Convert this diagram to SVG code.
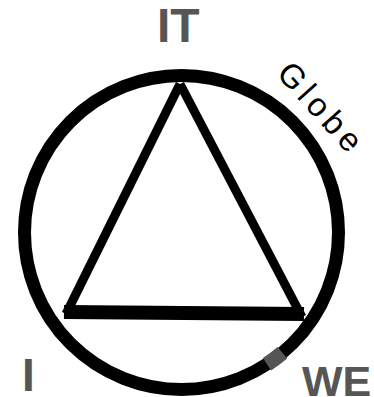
<svg xmlns="http://www.w3.org/2000/svg" width="374" height="397" viewBox="0 0 374 397">
  <style>
    .lbl { font-family: "Liberation Sans", Arial, sans-serif; font-weight: bold; fill: #565656; }
    .ring { fill: none; stroke: #000; stroke-width: 13; }
    .side { stroke: #000; stroke-width: 9; stroke-linecap: butt; fill: none; }
    .base { stroke: #000; stroke-width: 14; fill: none; }
  </style>
  <rect width="374" height="397" fill="#fff"/>
  <g id="globe">
    <circle class="ring" cx="181.5" cy="232.5" r="157"/>
    <path d="M 282.4 352.8 A 157 157 0 0 1 267 364.2" fill="none" stroke="#555" stroke-width="15"/>
    <text transform="translate(275.6,74.2) rotate(48)" font-family="Liberation Sans, Arial, sans-serif" font-size="33" letter-spacing="5" fill="#000">Globe</text>
  </g>
  <g id="connectors">
    <line class="side" x1="180" y1="84" x2="66" y2="314"/>
    <line class="side" x1="180" y1="84" x2="302" y2="317"/>
    <line class="base" x1="64" y1="312" x2="304" y2="314"/>
  </g>
  <g id="node-IT">
    <text class="lbl" x="157" y="42" font-size="48">IT</text>
  </g>
  <g id="node-I">
    <text class="lbl" x="22" y="391" font-size="46">I</text>
  </g>
  <g id="node-WE">
    <text class="lbl" x="302" y="396" font-size="43">WE</text>
  </g>
</svg>
